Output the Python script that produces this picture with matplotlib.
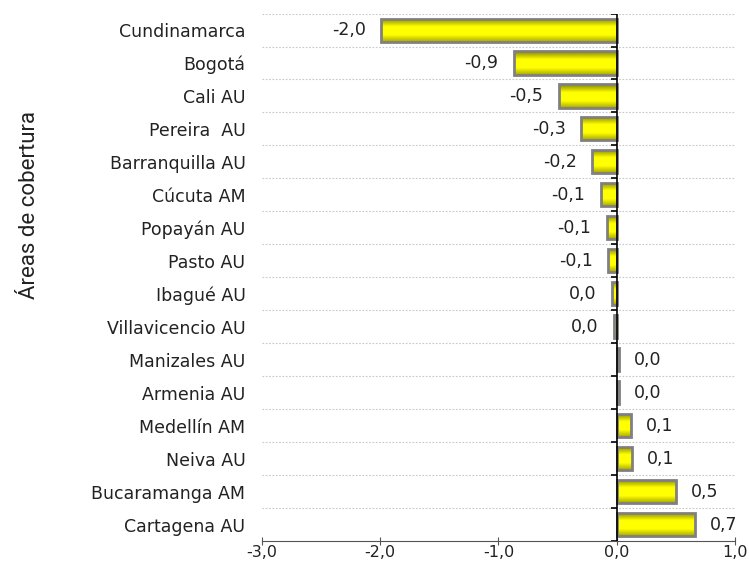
#!/usr/bin/env python3
'''horizontal bar chart - variacion por areas de cobertura'''

import numpy as np
import matplotlib
matplotlib.use('Agg')

import matplotlib.pyplot as plt
from matplotlib.colors import LinearSegmentedColormap

# categories, top to bottom
areas = ["Cundinamarca", "Bogotá", "Cali AU", "Pereira  AU", "Barranquilla AU",
         "Cúcuta AM", "Popayán AU", "Pasto AU", "Ibagué AU", "Villavicencio AU",
         "Manizales AU", "Armenia AU", "Medellín AM", "Neiva AU",
         "Bucaramanga AM", "Cartagena AU"]
# values
valores = [-1.99, -0.87, -0.49, -0.30, -0.21, -0.135, -0.085, -0.07, -0.04,
           -0.025, 0.02, 0.02, 0.12, 0.13, 0.50, 0.66]
xticks = [-3, -2, -1, 0, 1]


def fmt(v):
    r = round(v, 1)
    if r == 0:
        return "0,0"
    return f"{r:.1f}".replace('.', ',')


def main():
    plt.rcParams['font.family'] = ['DejaVu Sans']
    fig = plt.figure(figsize=(7.49, 5.65), dpi=100)
    ax = fig.add_axes([0.35, 0.0425, 0.631, 0.9335])

    y = np.arange(len(areas))
    h = 0.7

    # bar shading, dark edges to bright yellow centre
    grad_cmap = LinearSegmentedColormap.from_list(
        "amarillo", [(0.0, '#858500'), (0.35, '#ffff00'), (0.7, '#ffff00'),
                     (1.0, '#a8a800')])
    grad = np.linspace(0, 1, 64).reshape(-1, 1)

    bars = ax.barh(y, valores, height=h, color='#ffff00', zorder=2)
    for b in bars:
        bb = b.get_bbox()
        x0, x1 = min(bb.x0, bb.x1), max(bb.x0, bb.x1)
        y0, y1 = min(bb.y0, bb.y1), max(bb.y0, bb.y1)
        im = ax.imshow(grad, cmap=grad_cmap, aspect='auto', origin='upper',
                       extent=(x0, x1, y1, y0), zorder=2.5)
        im.set_clip_path(b)
    ax.barh(y, valores, height=h, fill=False, edgecolor='#808080',
            linewidth=2, zorder=3)

    # value labels
    for yi, v in zip(y, valores):
        off = -11 if v < 0 else 11
        ax.annotate(fmt(v), (v, yi), xytext=(off, 0), textcoords='offset points',
                    ha='right' if v < 0 else 'left', va='center',
                    fontsize=12.5, color='#222222')

    # dotted separators between categories
    bounds = np.arange(-0.5, len(areas) - 0.5, 1.0)
    for yb in bounds:
        ax.axhline(yb, color='#c8c8c8', linestyle=(0, (1.5, 1.5)),
                   linewidth=0.8, zorder=1)

    # zero line with ticks at the boundaries
    ax.axvline(0, color='black', linewidth=1.2, zorder=4)
    ax.hlines(np.append(bounds, len(areas) - 0.5), -0.05, 0, color='black',
              linewidth=1.2, zorder=4)

    ax.set_xlim(-3, 1)
    ax.set_ylim(len(areas) - 0.5, -0.5)
    ax.set_yticks(y)
    ax.set_yticklabels(areas, fontsize=12.5, color='#222222')
    ax.tick_params(axis='y', length=0, pad=12)
    ax.set_xticks(xticks)
    ax.set_xticklabels([f"{t:.1f}".replace('.', ',') for t in xticks],
                       fontsize=11.5, color='#222222')
    ax.tick_params(axis='x', direction='inout', length=6, color='#555555',
                   pad=0)

    for s in ('top', 'right', 'left'):
        ax.spines[s].set_visible(False)
    ax.spines['bottom'].set_color('#555555')

    fig.text(0.04, 0.637, "Áreas de cobertura", rotation=90, ha='center',
             va='center', fontsize=16, color='#222222',
             family=['Roboto', 'DejaVu Sans'])

    plt.savefig("out.png", dpi=100)


if __name__ == "__main__":
    main()
